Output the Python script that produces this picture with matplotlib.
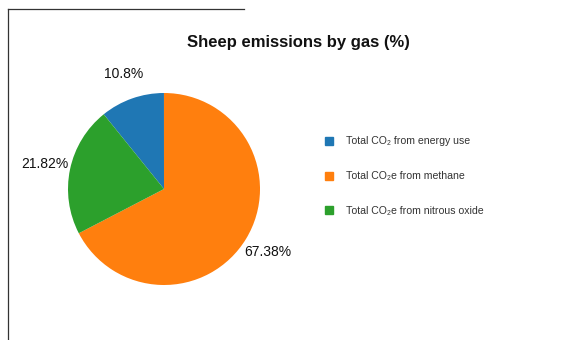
import matplotlib
matplotlib.use("Agg")
import matplotlib.pyplot as plt
from matplotlib.patches import Patch
from matplotlib.lines import Line2D

plt.rcParams['font.family'] = ['Liberation Sans', 'DejaVu Sans']

labels = ["Total CO\u2082 from energy use", "Total CO\u2082e from methane", "Total CO\u2082e from nitrous oxide"]
values = [10.8, 67.38, 21.82]
value_labels = ["10.8%", "67.38%", "21.82%"]
colors = ["#1f77b4", "#ff7f0e", "#2ca02c"]
title = "Sheep emissions by gas (%)"

W, H = 578, 340
fig = plt.figure(figsize=(W/100, H/100), dpi=100)

# frame lines
fig.add_artist(Line2D([8/W, 8/W], [0, 1 - 9/H], color="#333333", lw=0.9))
fig.add_artist(Line2D([8/W, 244/W], [1 - 9/H, 1 - 9/H], color="#333333", lw=0.9))

cx, cy, r = 164, 189, 96
ax = fig.add_axes([(cx - r)/W, (H - cy - r)/H, 2*r/W, 2*r/H])
wedges, texts = ax.pie(values, colors=colors, labels=value_labels, startangle=128.9,
                       counterclock=False, labeldistance=1.27,
                       textprops=dict(fontsize=10, color="#111111", ha="center", va="center"))
for t in texts:
    t.set_ha("center")
    t.set_clip_on(False)
ax.set_xlim(-1, 1)
ax.set_ylim(-1, 1)
ax.set_aspect("auto")
ax.axis("off")

fig.text(298/W, 1 - 42/H, title, ha="center", va="center", fontsize=12, fontweight="bold", color="#111111")

handles = [Patch(facecolor=c, edgecolor=c) for c in colors]
fig.legend(handles, labels, loc="upper left", bbox_to_anchor=(315/W, 1 - 127/H),
           frameon=False, fontsize=7.6, labelcolor="#333333",
           handlelength=0.8, handleheight=0.8, handletextpad=1.2, labelspacing=2.35)

fig.savefig("out.png", dpi=100)
